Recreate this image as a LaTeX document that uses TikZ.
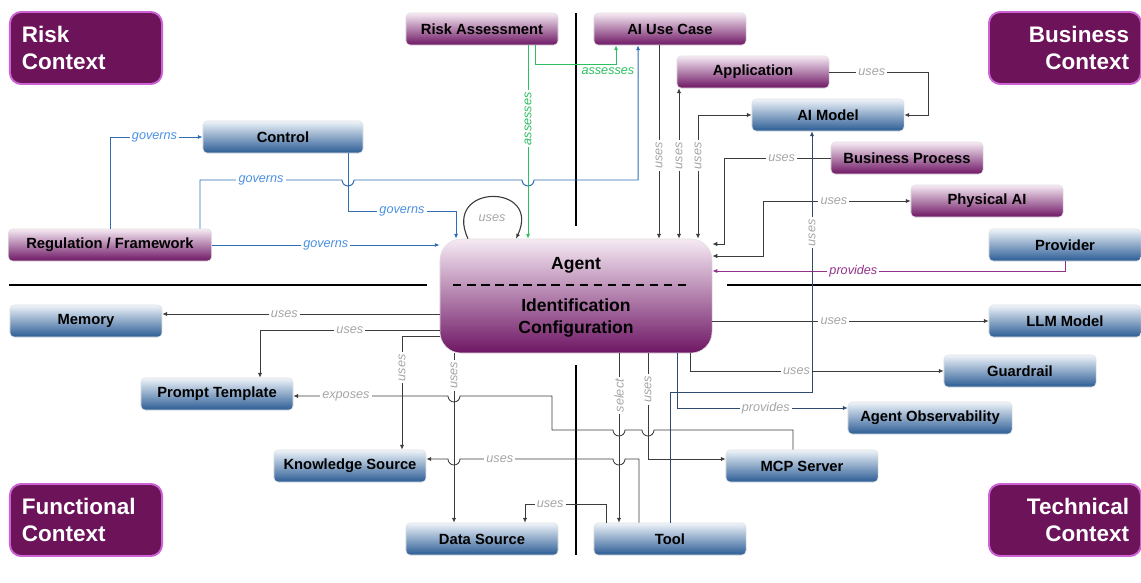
\documentclass[tikz,border=0pt]{standalone}
\usepackage{fontspec}
\setmainfont{Liberation Sans}
\usepackage{xcolor}
\usepackage{tikz}
\usetikzlibrary{positioning,arrows.meta}

\definecolor{ctxpurple}{HTML}{6C1359}
\definecolor{ctxglow}{HTML}{CC62D4}
\definecolor{plum}{HTML}{6E1664}
\definecolor{plumtop}{HTML}{F6EAF4}
\definecolor{steel}{HTML}{2B5C95}
\definecolor{steeltop}{HTML}{EEF4FA}
\definecolor{govblue}{HTML}{2F6DB5}
\definecolor{govtext}{HTML}{4A90E2}
\definecolor{assgreen}{HTML}{2EBF62}
\definecolor{usegray}{HTML}{A6A6A6}
\definecolor{linegray}{HTML}{3C3C3C}
\definecolor{slate}{HTML}{2E4A6E}
\definecolor{provpurple}{HTML}{93318A}

\tikzset{
  ctx/.style={rounded corners=8pt, fill=ctxpurple, draw=ctxglow, line width=1.4pt,
    minimum width=3.8cm, minimum height=1.8cm, text width=3.2cm, text=white,
    font=\fontsize{16}{19}\selectfont\bfseries},
  pbox/.style={rounded corners=3pt, top color=plumtop, bottom color=plum, draw=black!12,
    minimum width=3.8cm, minimum height=0.8cm, inner sep=2pt,
    font=\fontsize{10.5}{12}\selectfont\bfseries},
  bbox/.style={pbox, top color=steeltop, bottom color=steel},
  agentbox/.style={rounded corners=15pt, top color=plumtop, bottom color=plum, draw=black!12,
    minimum width=6.8cm, minimum height=2.85cm},
  agenttxt/.style={font=\fontsize{12.5}{15}\selectfont\bfseries, inner sep=0pt},
  agentdash/.style={line width=1.5pt, dash pattern=on 6pt off 4pt},
  sepline/.style={line width=1.8pt, black},
  arr/.style={->, >={Latex[length=3.5pt,width=3pt]}},
  arr2/.style={<->, >={Latex[length=3.5pt,width=3pt]}},
  lnk/.style={draw=linegray, line width=0.6pt},
  slatelnk/.style={draw=slate, line width=0.6pt},
  gov/.style={draw=govblue, line width=0.7pt},
  assess/.style={draw=assgreen, line width=0.7pt},
  prov/.style={draw=provpurple, line width=0.7pt},
  lbl/.style={font=\fontsize{9}{10}\selectfont\itshape, text=usegray, fill=white, inner sep=1.5pt},
  glbl/.style={lbl, text=govtext},
  albl/.style={lbl, text=assgreen},
  plbl/.style={lbl, text=provpurple}
}

\begin{document}
\begin{tikzpicture}[x=0.025cm, y=-0.025cm]
\useasboundingbox (0,0) rectangle (1141,583);

% context corners
\node[ctx, align=left] (riskctx) at (86,48) {Risk\\Context};
\node[ctx, align=right] (bizctx) at (1065,48) {Business\\Context};
\node[ctx, align=left] (funcctx) at (86,520) {Functional\\Context};
\node[ctx, align=right] (techctx) at (1065,520) {Technical\\Context};

% quadrant lines
\draw[sepline] (576,13) -- (576,226);
\draw[sepline] (576,365) -- (576,555);
\draw[sepline] (9,285) -- (427,285);
\draw[sepline] (727,285) -- (1141,285);

% entities
\node[pbox] (riskA) at (482,29) {Risk Assessment};
\node[pbox] (usecase) at (670,29) {AI Use Case};
\node[pbox] (app) at (753,72) {Application};
\node[bbox] (aimodel) at (828,115) {AI Model};
\node[bbox, minimum width=4cm] (control) at (283,137) {Control};
\node[pbox] (bizproc) at (907,158) {Business Process};
\node[pbox] (physai) at (987,201) {Physical AI};
\node[pbox, minimum width=5.08cm] (reg) at (110,245) {Regulation / Framework};
\node[bbox] (provider) at (1065,245) {Provider};
\node[bbox] (memory) at (86,321) {Memory};
\node[bbox] (llm) at (1065,321) {LLM Model};
\node[bbox] (prompt) at (217,394) {Prompt Template};
\node[bbox] (guard) at (1020,371) {Guardrail};
\node[bbox, minimum width=4.1cm] (obs) at (930,418) {Agent Observability};
\node[bbox] (ks) at (350,466) {Knowledge Source};
\node[bbox] (mcp) at (802,466) {MCP Server};
\node[bbox] (datasrc) at (482,539) {Data Source};
\node[bbox] (tool) at (670,539) {Tool};

% agent
\node[agentbox] (agent) at (576,296) {};
\node[agenttxt] (agentname) at (576,265) {Agent};
\draw[agentdash] (453,285) -- (692,285);
\node[agenttxt, align=center] (agentcfg) at (576,318) {Identification\\Configuration};

% governs
\draw[gov, arr] (110,0 |- reg.north) |- node[glbl, pos=0.74] {governs} (control.west);
\draw[gov, arr] (200,0 |- reg.north) -- (200,180) -- (342,180) node[glbl, pos=0.43] {governs}
  arc (180:0:6) -- (522,180) arc (180:0:6) -- (638,180) -- (638,0 |- usecase.south);
\draw[gov, arr] (348,0 |- control.south) -- (348,211) -- node[glbl] {governs} (456,211)
  -- (456,0 |- agent.north);
\draw[gov, arr] (reg.east) -- node[glbl] {governs} (agent.west |- reg.east);

% assesses
\draw[assess, arr] (535,0 |- riskA.south) -- (535,64) -- (616,64)
  node[albl, pos=0.9, below, yshift=-1pt] {assesses} -- (616,0 |- usecase.south);
\draw[assess, arr] (528,0 |- riskA.south) -- node[albl, rotate=90, pos=0.38] {assesses}
  (528,0 |- agent.north);

% agent uses agent
\draw[lnk, arr, line width=0.8pt] (468,0 |- agent.north) .. controls (442,183) and (542,183) ..
  node[lbl, fill=none, pos=0.5, below=11pt] {uses} (516,0 |- agent.north);

% business side
\draw[lnk, arr] (659,0 |- usecase.south) -- node[lbl, rotate=90, pos=0.57] {uses} (659,0 |- agent.north);
\draw[lnk, arr2] (679,0 |- app.south) -- node[lbl, rotate=90, pos=0.45] {uses} (679,0 |- agent.north);
\draw[lnk, arr2] (aimodel.west) -- (698,0 |- aimodel.west)
  -- node[lbl, rotate=90, pos=0.33] {uses} (698,0 |- agent.north);
\draw[lnk, arr] (app.east) -- (928,0 |- app.east) node[lbl, pos=0.43] {uses} |- (aimodel.east);
\draw[lnk, arr] (bizproc.west) -- (724,0 |- bizproc.west) node[lbl, pos=0.46] {uses}
  |- (agent.east |- 0,244);
\draw[lnk, arr2] (physai.west) -- (763,0 |- physai.west) node[lbl, pos=0.52] {uses}
  |- (agent.east |- 0,256);
\draw[prov, arr] (provider.south) |- node[plbl, pos=0.8] {provides} (agent.east |- 0,271);

% technical side
\draw[slatelnk, arr] (670,0 |- tool.north) -- (670,392) -- (812,392)
  -- node[lbl, rotate=90, pos=0.61] {uses} (812,0 |- aimodel.south);
\draw[lnk, arr] (agent.east |- llm.west) -- node[lbl, pos=0.44] {uses} (llm.west);
\draw[lnk, arr] (690,0 |- agent.south) |- node[lbl, pos=0.71] {uses} (guard.west);
\draw[slatelnk, arr] (677,0 |- agent.south) |- node[lbl, pos=0.76] {provides} (obs.west |- 0,408);

% functional side
\draw[lnk, arr] (agent.west |- 0,314) -- node[lbl, pos=0.56] {uses} (memory.east |- 0,314);
\draw[lnk, arr] (agent.west |- 0,330) -| node[lbl, pos=0.25] {uses} (260,0 |- prompt.north);
\draw[lnk, arr] (agent.west |- 0,336) -| node[lbl, rotate=90, pos=0.64] {uses} (402,0 |- ks.north);
\draw[lnk, arr] (454,0 |- agent.south) -- node[lbl, rotate=90, pos=0.13] {uses} (454,0 |- datasrc.north);
\draw[lnk, arr] (619,0 |- agent.south) -- node[lbl, rotate=90, pos=0.25] {select} (619,0 |- tool.north);
\draw[lnk, arr] (648,0 |- agent.south) |- node[lbl, rotate=90, pos=0.17] {uses} (mcp.west |- 0,459);
\draw[lnk, arr] (793,0 |- mcp.north) -- (793,430) -- (654,430) arc (0:180:6) -- (625,430)
  arc (0:180:6) -- (552,430) -- (552,396) -- (460,396) arc (0:180:6)
  -- (prompt.east |- 0,396) node[lbl, pos=0.66] {exposes};
\draw[lnk, arr] (639,0 |- tool.north) -- (639,459) -- (625,459) arc (0:180:6) -- (460,459)
  node[lbl, pos=0.74] {uses} arc (0:180:6) -- (ks.east |- 0,459);
\draw[lnk, arr] (606,0 |- tool.north) -- (606,504) -- (525,504) node[lbl, pos=0.69] {uses}
  -- (525,0 |- datasrc.north);

\end{tikzpicture}
\end{document}
